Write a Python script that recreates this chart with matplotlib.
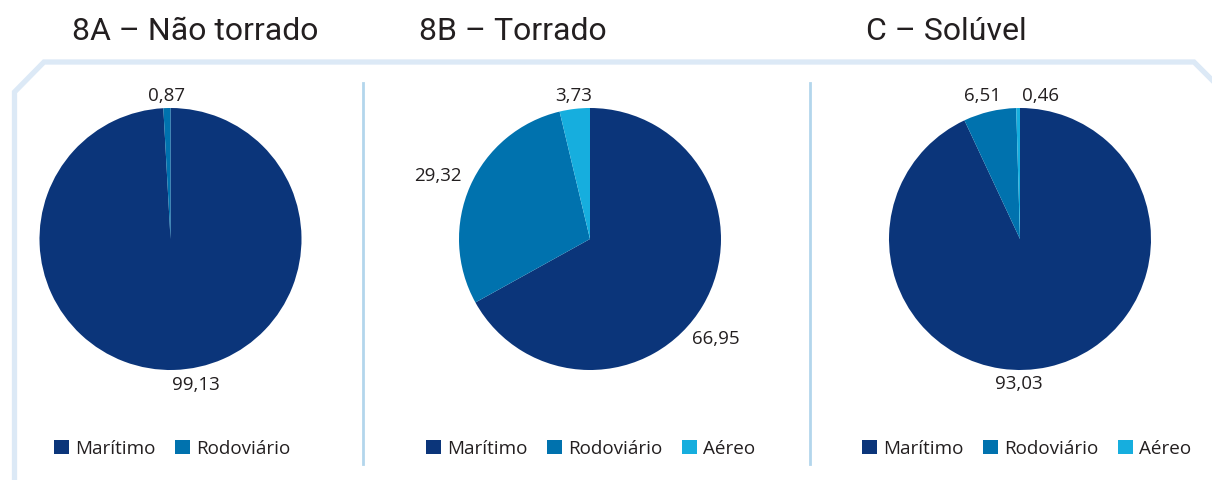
import matplotlib
matplotlib.use("Agg")
import matplotlib.pyplot as plt
import numpy as np
from matplotlib.lines import Line2D

plt.rcParams['font.family'] = ['Open Sans', 'DejaVu Sans']

titles = ["8A – Não torrado", "8B – Torrado", "C – Solúvel"]
categories_a = ["Marítimo", "Rodoviário"]
values_a = [99.13, 0.87]
categories_b = ["Marítimo", "Rodoviário", "Aéreo"]
values_b = [66.95, 29.32, 3.73]
categories_c = ["Marítimo", "Rodoviário", "Aéreo"]
values_c = [93.03, 6.51, 0.46]
labels_a = ["99,13", "0,87"]
labels_b = ["66,95", "29,32", "3,73"]
labels_c = ["93,03", "6,51", "0,46"]

colors = ["#0B357A", "#0072AE", "#16AEDE"]
text_color = "#231F20"

W, H = 1212, 481
fig = plt.figure(figsize=(W / 100, H / 100), dpi=100)
ax = fig.add_axes([0, 0, 1, 1])
ax.set_xlim(0, W)
ax.set_ylim(0, H)
ax.axis('off')

def Y(py):
    return H - py

# frame
frame_x = [14.5, 14.5, 44, 1194, 1240]
frame_y = [Y(490), Y(93), Y(63), Y(63), Y(109)]
ax.add_line(Line2D(frame_x, frame_y, color="#DCE9F6", lw=3.8, solid_joinstyle='miter'))

# separators
for sx in (363.3, 810):
    ax.add_line(Line2D([sx, sx], [Y(84), Y(465)], color="#B3D6EC", lw=2.0))

panels = [
    (categories_a, values_a, labels_a, titles[0], (170.5, 240), 195,
     [(147, 8.2), (144, 0.0)], 54),
    (categories_b, values_b, labels_b, titles[1], (590, 240), 513,
     [(160, -7.5), (165, 0.8), (145, -0.4)], 426),
    (categories_c, values_c, labels_c, titles[2], (1020, 240), 946,
     [(144, -13.0), (149, 1.4), (145.5, -9.0)], 862),
]

R = 131
legends = []
for cats, vals, labs, title, (cx, cy), tx, lab_pos, legx in panels:
    wedges, _ = ax.pie(vals, colors=colors[:len(vals)], startangle=90,
                       counterclock=False, radius=R, center=(cx, Y(cy)),
                       wedgeprops=dict(linewidth=0), frame=True)
    for w, lab, (rl, off) in zip(wedges, labs, lab_pos):
        mid = np.deg2rad((w.theta1 + w.theta2) / 2 + off)
        ax.text(cx + rl * np.cos(mid), Y(cy) + rl * np.sin(mid), lab,
                ha='center', va='center', fontsize=13.5, color=text_color)
    ax.text(tx, Y(40), title, ha='center', va='baseline', fontsize=23,
            color=text_color, family=['Roboto', 'DejaVu Sans'])
    leg = ax.legend(wedges, cats, loc='center left',
                    bbox_to_anchor=(legx, Y(449.5)),
                    bbox_transform=ax.transData, ncol=len(cats),
                    frameon=False, fontsize=13.6, handlelength=0.78,
                    handleheight=0.82, handletextpad=0.32,
                    columnspacing=1.05, labelcolor=text_color,
                    borderaxespad=0, borderpad=0)
    legends.append(leg)
for leg in legends:
    ax.add_artist(leg)
ax.legend_ = None

ax.set_xlim(0, W)
ax.set_ylim(0, H)
ax.set_aspect('auto')
ax.axis('off')
fig.savefig("out.png", dpi=100)
